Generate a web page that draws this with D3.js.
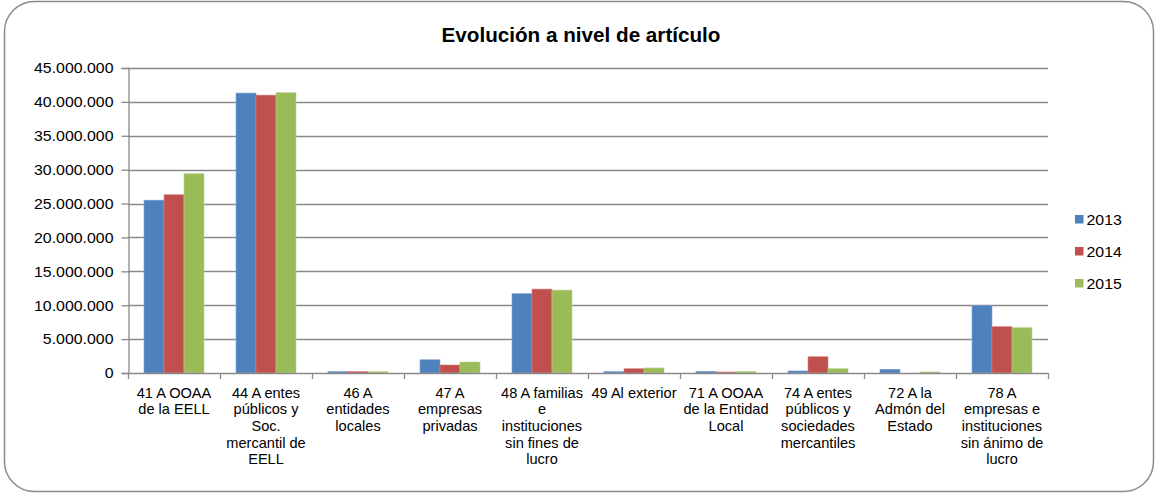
<!DOCTYPE html>
<html>
<head>
<meta charset="utf-8">
<script src="https://cdn.jsdelivr.net/npm/d3@7"></script>
<style>
  html, body { margin: 0; padding: 0; background: #fff; }
  svg { display: block; }
  text { font-family: "Liberation Sans", Arial, sans-serif; fill: #000; }
</style>
</head>
<body>
<svg id="chart" width="1156" height="495"></svg>
<script>
const title = "Evolución a nivel de artículo";
const categories = [
  ["41 A OOAA", "de la EELL"],
  ["44 A entes", "públicos y", "Soc.", "mercantil de", "EELL"],
  ["46 A", "entidades", "locales"],
  ["47 A", "empresas", "privadas"],
  ["48 A familias", "e", "instituciones", "sin fines de", "lucro"],
  ["49 Al exterior"],
  ["71 A OOAA", "de la Entidad", "Local"],
  ["74 A entes", "públicos y", "sociedades", "mercantiles"],
  ["72 A la", "Admón del", "Estado"],
  ["78 A", "empresas e", "instituciones", "sin ánimo de", "lucro"]
];
const seriesNames = ["2013", "2014", "2015"];
const values2013 = [25500000, 41300000, 200000, 1950000, 11700000, 200000, 250000, 300000, 540000, 9950000];
const values2014 = [26300000, 41000000, 200000, 1180000, 12380000, 630000, 150000, 2400000, 0, 6830000];
const values2015 = [29400000, 41350000, 180000, 1620000, 12230000, 740000, 200000, 630000, 150000, 6680000];
const yTicks = [0, 5000000, 10000000, 15000000, 20000000, 25000000, 30000000, 35000000, 40000000, 45000000];
const colors = ["#4F81BD", "#C0504D", "#9BBB59"];
const strokes = ["#7EA2D0", "#D68280", "#B8D08A"];

(function () {
const svg = d3.select("#chart");
const SX = 1.06;

// outer border
svg.append("rect")
  .attr("x", 4.5).attr("y", 1.5).attr("width", 1149).attr("height", 490)
  .attr("rx", 30).attr("ry", 30)
  .attr("fill", "#fff").attr("stroke", "#8c8c8c").attr("stroke-width", 1.5);

const pLeft = 128, pRight = 1048, pTop = 68, pBottom = 373;

const x0 = d3.scaleBand().domain(d3.range(categories.length)).range([pLeft, pRight]).paddingInner(0).paddingOuter(0);
const x1 = d3.scaleBand().domain(d3.range(seriesNames.length)).range([16, x0.bandwidth() - 16]).padding(0);
const y = d3.scaleLinear().domain([0, 45000000]).range([pBottom, pTop]);

const fmt = v => d3.format(",")(v).replace(/,/g, ".");

// gridlines
svg.append("g").selectAll("line").data(yTicks.filter(t => t > 0)).join("line")
  .attr("x1", pLeft).attr("x2", pRight)
  .attr("y1", d => Math.round(y(d)) + 0.5).attr("y2", d => Math.round(y(d)) + 0.5)
  .attr("stroke", "#8a8a8a").attr("stroke-width", 1.3);

// y axis
const yAxis = svg.append("g").attr("transform", `translate(${pLeft + 0.5},0)`)
  .call(d3.axisLeft(y).tickValues(yTicks).tickFormat(fmt).tickSize(7).tickPadding(8));
yAxis.select(".domain").attr("stroke", "#8a8a8a").attr("stroke-width", 1.3);
yAxis.selectAll(".tick line").attr("stroke", "#8a8a8a").attr("stroke-width", 1.3);
yAxis.selectAll(".tick text").attr("font-size", 15).attr("font-family", "Liberation Sans, Arial, sans-serif")
  .attr("fill", "#000")
  .each(function() {
    const t = d3.select(this);
    const xx = +t.attr("x");
    t.attr("x", null).attr("transform", `translate(${xx},0) scale(${SX},1)`);
  });

// bars
const data = [values2013, values2014, values2015];
const groups = svg.append("g").selectAll("g").data(categories.map((c, i) => i)).join("g")
  .attr("transform", i => `translate(${x0(i)},0)`);
groups.selectAll("rect").data(i => data.map((s, k) => ({k, v: s[i]}))).join("rect")
  .attr("x", d => x1(d.k))
  .attr("width", x1.bandwidth())
  .attr("y", d => y(d.v))
  .attr("height", d => y(0) - y(d.v))
  .attr("fill", d => colors[d.k])
  .attr("stroke", d => strokes[d.k]).attr("stroke-width", 0.6);

// x axis
const xb = d3.range(categories.length + 1).map(i => pLeft + i * x0.bandwidth());
svg.append("line").attr("x1", pLeft).attr("x2", pRight)
  .attr("y1", y(0) + 0.5).attr("y2", y(0) + 0.5)
  .attr("stroke", "#8a8a8a").attr("stroke-width", 1.3);
svg.append("g").selectAll("line").data(xb).join("line")
  .attr("x1", d => Math.round(d) + 0.5).attr("x2", d => Math.round(d) + 0.5)
  .attr("y1", y(0)).attr("y2", y(0) + 6)
  .attr("stroke", "#8a8a8a").attr("stroke-width", 1.3);

// category labels
const lab = svg.append("g").selectAll("text").data(categories).join("text")
  .attr("text-anchor", "middle").attr("font-size", 14.6)
  .attr("transform", (d, i) => `translate(${x0(i) + x0.bandwidth() / 2},397.5)`);
lab.selectAll("tspan").data(d => d).join("tspan")
  .attr("x", 0).attr("dy", (d, j) => j === 0 ? 0 : 16.7).text(d => d);

// title
svg.append("text").attr("text-anchor", "middle").attr("font-size", 19.5).attr("font-weight", "bold")
  .attr("transform", `translate(581,41.5) scale(${SX},1)`).text(title);

// legend
const leg = svg.append("g").selectAll("g").data(seriesNames).join("g")
  .attr("transform", (d, i) => `translate(1075,${215 + i * 32})`);
leg.append("rect").attr("width", 8.5).attr("height", 8.5).attr("fill", (d, i) => colors[i]);
leg.append("text").attr("font-size", 15).attr("transform", `translate(11.5,10) scale(${SX},1)`).text(d => d);
})();
</script>
</body>
</html>
